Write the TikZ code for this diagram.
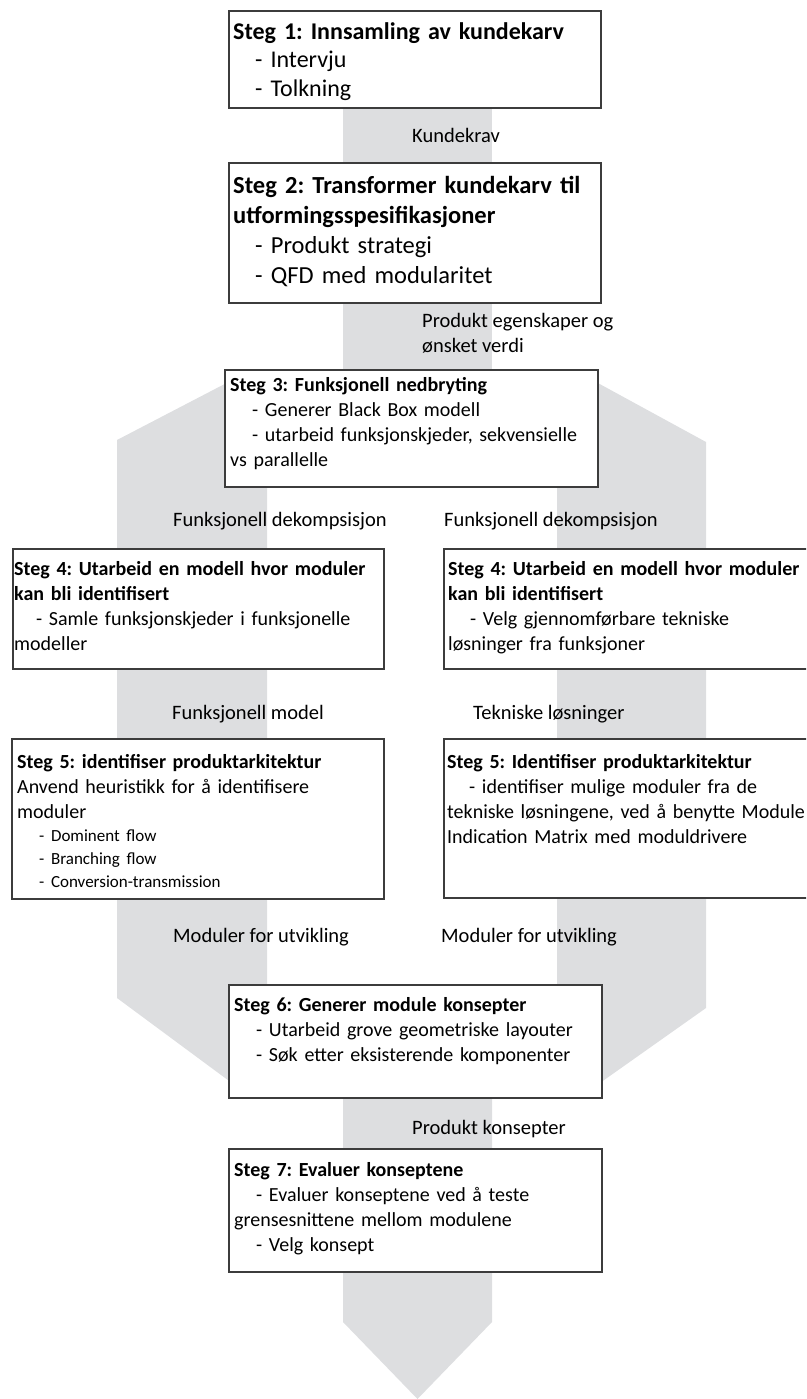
\documentclass[tikz,border=0pt]{standalone}
\usepackage{fontspec}
\setmainfont{Carlito}
\definecolor{flowgray}{RGB}{221,222,224}
\definecolor{boxline}{RGB}{60,60,60}
\newcommand{\ind}{\hspace*{22pt}}
\frenchspacing
\begin{document}
\begin{tikzpicture}[x=1pt,y=-1pt,
  band/.style={fill=flowgray,draw=none},
  stepbox/.style={draw=boxline,line width=1.8pt,fill=white,rectangle,inner sep=0pt,anchor=north west},
  steptext/.style={anchor=north west,inner sep=0pt,align=left,text width=#1},
  bigfont/.style={font=\fontsize{24}{28.5}\selectfont},
  midfont/.style={font=\fontsize{24.5}{30}\selectfont},
  stdfont/.style={font=\fontsize{20}{25}\selectfont},
  flowlabel/.style={anchor=base west,inner sep=0pt,font=\fontsize{20.5}{25}\selectfont},
]
\useasboundingbox (0,0) rectangle (806,1399);
\clip (0,0) rectangle (806,1399);

% grey flow: central band, two branches, merged band with arrow head
\fill[band] (343,60) rectangle (492,420);
\fill[band] (117,440) -- (240,376) -- (267,376) -- (267,1089) -- (240,1089) -- (117,998) -- cycle;
\fill[band] (706,442) -- (585,376) -- (557,376) -- (557,1089) -- (590,1090) -- (706,1008) -- cycle;
\fill[band] (343,1050) -- (492,1050) -- (492,1322) -- (417.5,1399) -- (343,1322) -- cycle;

% step boxes
\node[stepbox,minimum width=372pt,minimum height=97pt] (b1) at (228,10) {};
\node[stepbox,minimum width=372pt,minimum height=140pt] (b2) at (228,162) {};
\node[stepbox,minimum width=373pt,minimum height=117pt] (b3) at (224,369) {};
\node[stepbox,minimum width=371pt,minimum height=120pt] (b4l) at (12,548) {};
\node[stepbox,minimum width=380pt,minimum height=120pt] (b4r) at (443,548) {};
\node[stepbox,minimum width=372pt,minimum height=160pt] (b5l) at (11,738) {};
\node[stepbox,minimum width=380pt,minimum height=159pt] (b5r) at (443,738) {};
\node[stepbox,minimum width=373pt,minimum height=113pt] (b6) at (228,984) {};
\node[stepbox,minimum width=373pt,minimum height=123pt] (b7) at (228,1148) {};

% box contents
\node[steptext=362pt,bigfont] (t1) at ([xshift=5pt,yshift=-9pt]b1.north west)
  {\strut\textbf{Steg 1: Innsamling av kundekarv}\\
   \ind- Intervju\\
   \ind- Tolkning};
\node[steptext=362pt,midfont] (t2) at ([xshift=5pt,yshift=-10pt]b2.north west)
  {\strut\textbf{Steg 2: Transformer kundekarv til}\\
   \textbf{utformingsspesifikasjoner}\\
   \ind- Produkt strategi\\
   \ind- QFD med modularitet};
\node[steptext=365pt,stdfont] (t3) at ([xshift=6pt,yshift=-4.5pt]b3.north west)
  {\strut\textbf{Steg 3: Funksjonell nedbryting}\\
   \ind- Generer Black Box modell\\
   \ind- utarbeid funksjonskjeder, sekvensielle\\
   vs parallelle};
\node[steptext=366pt,stdfont] (t4l) at ([xshift=2pt,yshift=-9.5pt]b4l.north west)
  {\strut\textbf{Steg 4: Utarbeid en modell hvor moduler}\\
   \textbf{kan bli identifisert}\\
   \ind- Samle funksjonskjeder i funksjonelle\\
   modeller};
\node[steptext=372pt,stdfont] (t4r) at ([xshift=5pt,yshift=-9.5pt]b4r.north west)
  {\strut\textbf{Steg 4: Utarbeid en modell hvor moduler}\\
   \textbf{kan bli identifisert}\\
   \ind- Velg gjennomførbare tekniske\\
   løsninger fra funksjoner};
\node[steptext=366pt,stdfont] (t5l) at ([xshift=6pt,yshift=-12.5pt]b5l.north west)
  {\strut\textbf{Steg 5: identifiser produktarkitektur}\\
   Anvend heuristikk for å identifisere\\
   moduler\\[-2pt]
   \ind{\fontsize{17}{23}\selectfont - Dominent flow}\\[-2pt]
   \ind{\fontsize{17}{23}\selectfont - Branching flow}\\[-2pt]
   \ind{\fontsize{17}{23}\selectfont - Conversion-transmission}};
\node[steptext=420pt,stdfont] (t5r) at ([xshift=4pt,yshift=-12.5pt]b5r.north west)
  {\strut\textbf{Steg 5: Identifiser produktarkitektur}\\
   \ind- identifiser mulige moduler fra de\\
   tekniske løsningene, ved å benytte Module\\
   Indication Matrix med moduldrivere};
\node[steptext=365pt,stdfont] (t6) at ([xshift=6pt,yshift=-9.5pt]b6.north west)
  {\strut\textbf{Steg 6: Generer module konsepter}\\
   \ind- Utarbeid grove geometriske layouter\\
   \ind- Søk etter eksisterende komponenter};
\node[steptext=365pt,stdfont] (t7) at ([xshift=6pt,yshift=-10.5pt]b7.north west)
  {\strut\textbf{Steg 7: Evaluer konseptene}\\
   \ind- Evaluer konseptene ved å teste\\
   grensesnittene mellom modulene\\
   \ind- Velg konsept};

% flow labels
\node[flowlabel] (l1) at (412,143) {Kundekrav};
\node[flowlabel] (l2) at (422,327) {Produkt egenskaper og};
\node[flowlabel] (l2b) at (422,352) {ønsket verdi};
\node[flowlabel] (l3l) at (173,526) {Funksjonell dekompsisjon};
\node[flowlabel] (l3r) at (444,526) {Funksjonell dekompsisjon};
\node[flowlabel] (l4l) at (172,719) {Funksjonell model};
\node[flowlabel] (l4r) at (473,719) {Tekniske løsninger};
\node[flowlabel] (l5l) at (173,942) {Moduler for utvikling};
\node[flowlabel] (l5r) at (441,942) {Moduler for utvikling};
\node[flowlabel] (l6) at (412,1134) {Produkt konsepter};
\end{tikzpicture}
\end{document}
